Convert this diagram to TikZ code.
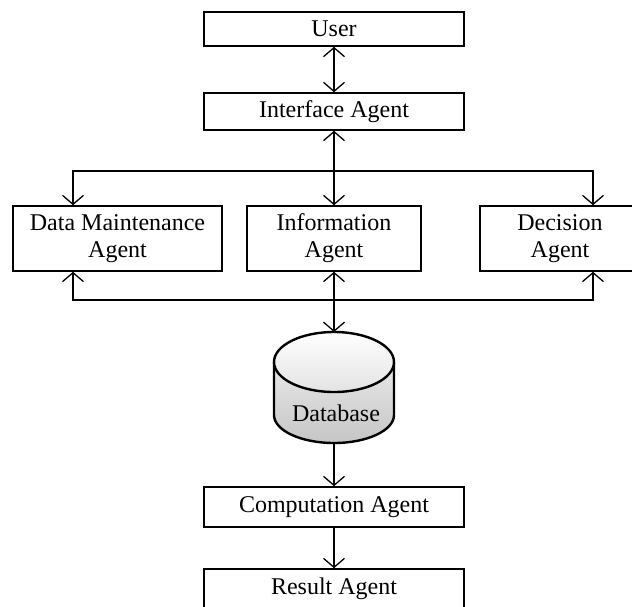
\documentclass[tikz,border=0pt]{standalone}
\usepackage{fontspec}
\setmainfont{Liberation Serif}
\usetikzlibrary{arrows.meta}
\begin{document}
\begin{tikzpicture}[x=1pt,y=-1pt,
  agent/.style={draw, line width=1.6pt, inner sep=0pt, align=center,
    font=\fontsize{24}{27}\selectfont},
  link/.style={line width=1.4pt},
  >={Straight Barb[length=9pt,width=21pt,line width=1.3pt]}]
\useasboundingbox (0,0) rectangle (632,606);

% agents
\node[agent, minimum width=260pt, minimum height=34pt] (user) at (334,29) {User};
\node[agent, minimum width=260pt, minimum height=37pt] (iface) at (334,111.5) {Interface Agent};
\node[agent, minimum width=209pt, minimum height=65pt] (dma) at (117.5,238.5) {Data Maintenance\\Agent};
\node[agent, minimum width=174pt, minimum height=65pt] (info) at (334,238.5) {Information\\Agent};
\node[agent, minimum width=160pt, minimum height=65pt] (dec) at (560,238.5) {Decision\\Agent};
\node[agent, minimum width=260pt, minimum height=40pt] (comp) at (334,507) {Computation Agent};
\node[agent, minimum width=260pt, minimum height=40pt] (res) at (334,589) {Result Agent};

% database cylinder
\path[top color=gray!18, bottom color=gray!45]
  (274,362) -- (274,415) arc[start angle=180, end angle=360, x radius=60pt, y radius=28pt]
  -- (394,362) -- cycle;
\draw[line width=2.4pt] (274,362) -- (274,415) arc[start angle=180, end angle=360, x radius=60pt, y radius=28pt]
  -- (394,362);
\draw[line width=2.4pt, top color=white, bottom color=gray!22] (334,362) ellipse [x radius=60pt, y radius=30pt];
\node[inner sep=0pt, font=\fontsize{24}{27}\selectfont] (db) at (336,413) {Database};
\coordinate (dbtop) at (334,332);
\coordinate (dbbot) at (334,443);

% bus coordinates
\coordinate (tl) at (73,171);
\coordinate (tr) at (593,171);
\coordinate (bl) at (73,300);
\coordinate (br) at (593,300);

% connectors
\draw[link,<->] (user.south) -- (iface.north);
\draw[link,<->] (iface.south) -- (info.north);
\draw[link,->] (tl -| info.north) -- (tl) -- (tl |- dma.north);
\draw[link,->] (tl -| info.north) -- (tr) -- (tr |- dec.north);
\draw[link,<->] (info.south) -- (dbtop);
\draw[link,->] (bl -| info.south) -- (bl) -- (bl |- dma.south);
\draw[link,->] (bl -| info.south) -- (br) -- (br |- dec.south);
\draw[link,->] (dbbot) -- (comp.north);
\draw[link,->] (comp.south) -- (res.north);
\end{tikzpicture}
\end{document}
